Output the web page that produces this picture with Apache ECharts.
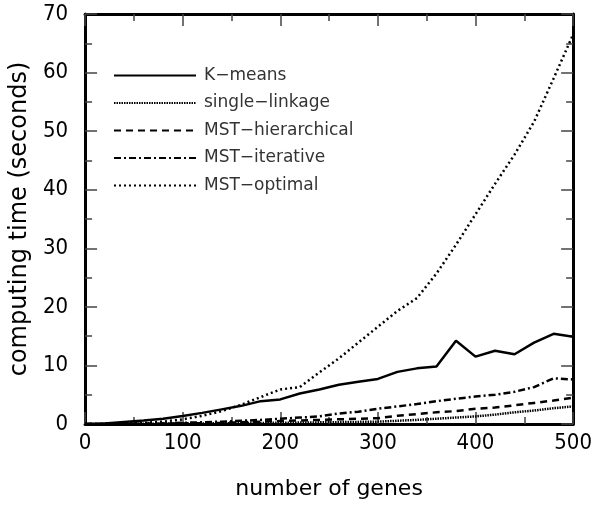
<!DOCTYPE html>
<html style="height: 100%">
<head>
  <meta charset="utf-8">
</head>
<body style="height: 100%; margin: 0; background: #fff">
  <div id="container" style="height: 100%"></div>
  <script type="text/javascript" src="https://cdn.jsdelivr.net/npm/echarts@6/dist/echarts.min.js"></script>
  <script type="text/javascript">
    var genes = [0, 20, 40, 60, 80, 100, 120, 140, 160, 180, 200, 220, 240, 260, 280, 300, 320, 340, 360, 380, 400, 420, 440, 460, 480, 500];
    var kmeans = [0, 0.1, 0.35, 0.6, 0.9, 1.35, 1.9, 2.5, 3.1, 3.9, 4.2, 5.2, 5.9, 6.7, 7.2, 7.7, 8.9, 9.5, 9.8, 14.2, 11.5, 12.5, 11.9, 13.9, 15.4, 14.9];
    var singleLinkage = [0, 0, 0.02, 0.04, 0.06, 0.08, 0.1, 0.12, 0.15, 0.18, 0.2, 0.24, 0.28, 0.32, 0.36, 0.4, 0.55, 0.7, 0.9, 1.1, 1.3, 1.6, 2.0, 2.3, 2.7, 3.0];
    var mstHier = [0, 0.01, 0.02, 0.04, 0.07, 0.1, 0.15, 0.2, 0.3, 0.4, 0.5, 0.6, 0.7, 0.8, 0.9, 1.0, 1.4, 1.7, 2.0, 2.2, 2.6, 2.8, 3.2, 3.6, 4.0, 4.5];
    var mstIter = [0, 0.01, 0.03, 0.06, 0.1, 0.2, 0.3, 0.4, 0.55, 0.7, 0.9, 1.1, 1.3, 1.8, 2.1, 2.6, 3.0, 3.4, 3.9, 4.3, 4.7, 5.0, 5.5, 6.3, 7.8, 7.6];
    var mstOpt = [0, 0.02, 0.08, 0.2, 0.4, 0.8, 1.4, 2.2, 3.3, 4.6, 5.9, 6.3, 8.8, 11.2, 13.9, 16.6, 19.3, 21.5, 25.7, 30.6, 35.8, 41, 46, 51.6, 59, 66.5];
    var names = ['K\u2212means', 'single\u2212linkage', 'MST\u2212hierarchical', 'MST\u2212iterative', 'MST\u2212optimal'];

    var dom = document.getElementById("container");
    var myChart = echarts.init(dom);

    function pairs(ys) {
      return genes.map(function (g, i) { return [g, ys[i]]; });
    }

    var numFont = "'Liberation Sans Narrow', 'DejaVu Sans Condensed', sans-serif";
    var txtFont = "'DejaVu Sans', sans-serif";
    var tickStyle = { show: true, inside: true, length: 12, lineStyle: { color: '#444', width: 1.5 } };
    var minorStyle = { show: true, splitNumber: 2, length: 7, lineStyle: { color: '#444', width: 1.5 } };
    var axisLine = { show: true, onZero: false, lineStyle: { color: '#000', width: 3 } };

    function mkSeries(name, ys, dash) {
      return {
        name: name,
        type: 'line',
        data: pairs(ys),
        symbol: 'none',
        lineStyle: { color: '#000', width: 2.5, type: dash },
        itemStyle: { color: '#000' }
      };
    }

    var option = {
      animation: false,
      grid: { left: 83, right: 19, top: 14, bottom: 78 },
      legend: {
        orient: 'vertical',
        left: 108,
        top: 62,
        itemWidth: 82,
        itemHeight: 14,
        itemGap: 10.5,
        itemStyle: { opacity: 0 },
        textStyle: { fontFamily: txtFont, fontSize: 17, color: '#333', padding: [0, 0, 0, 3] },
        data: names
      },
      xAxis: [{
        type: 'value', min: 0, max: 500, interval: 100,
        name: 'number of genes', nameLocation: 'middle', nameGap: 54,
        nameTextStyle: { fontFamily: txtFont, fontSize: 22, color: '#000' },
        axisLine: axisLine, axisTick: tickStyle, minorTick: minorStyle,
        splitLine: { show: false },
        axisLabel: { fontFamily: numFont, fontSize: 22, color: '#000', margin: 8 }
      }, {
        type: 'value', min: 0, max: 500, interval: 100, position: 'top',
        axisLine: axisLine, axisTick: tickStyle, minorTick: minorStyle,
        splitLine: { show: false }, axisLabel: { show: false }
      }],
      yAxis: [{
        type: 'value', min: 0, max: 70, interval: 10,
        name: 'computing time (seconds)', nameLocation: 'middle', nameGap: 47,
        nameTextStyle: { fontFamily: txtFont, fontSize: 24, color: '#000' },
        axisLine: axisLine, axisTick: tickStyle, minorTick: minorStyle,
        splitLine: { show: false },
        axisLabel: { fontFamily: numFont, fontSize: 22, color: '#000', margin: 17 }
      }, {
        type: 'value', min: 0, max: 70, interval: 10, position: 'right',
        axisLine: axisLine, axisTick: tickStyle, minorTick: minorStyle,
        splitLine: { show: false }, axisLabel: { show: false }
      }],
      series: [
        mkSeries(names[0], kmeans, 'solid'),
        mkSeries(names[1], singleLinkage, [1.5, 1]),
        mkSeries(names[2], mstHier, [7, 5]),
        mkSeries(names[3], mstIter, [7, 3, 2, 3]),
        mkSeries(names[4], mstOpt, [2, 3])
      ]
    };

    myChart.setOption(option);
  </script>
</body>
</html>
